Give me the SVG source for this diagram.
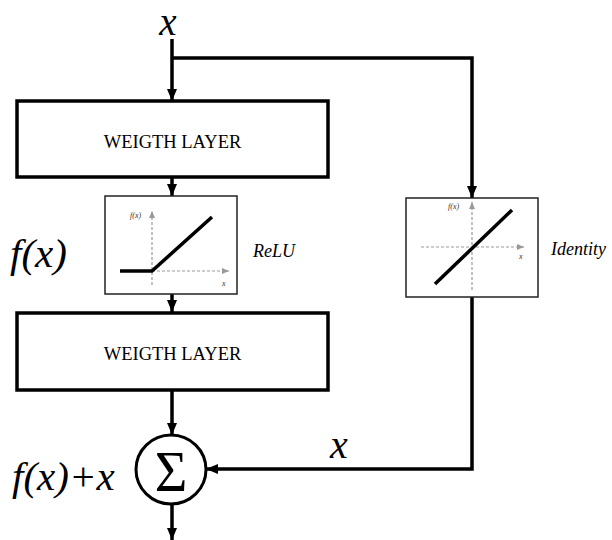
<svg xmlns="http://www.w3.org/2000/svg" width="612" height="540" viewBox="0 0 612 540">
<style>
.conn{fill:none;stroke:#000;stroke-width:3.5}
.layer{fill:#fff;stroke:#000;stroke-width:3.5}
.plot{fill:#fff;stroke:#222;stroke-width:1.5}
.axis{fill:none;stroke:#999;stroke-width:1.2;stroke-dasharray:3,2}
.curve{fill:none;stroke:#000;stroke-width:3.5}
text{font-family:'Liberation Serif','Times New Roman','DejaVu Serif',serif;fill:#000}
.i{font-style:italic}
.small{font-style:italic;font-size:8px;fill:#333}
</style>
<defs>
<marker id="ah" markerUnits="userSpaceOnUse" markerWidth="12" markerHeight="10" refX="12" refY="5" orient="auto">
<path d="M0,0 L12,5 L0,10 Z" fill="#000"/>
</marker>
<marker id="ag" markerUnits="userSpaceOnUse" markerWidth="7" markerHeight="6" refX="7" refY="3" orient="auto">
<path d="M0,0 L7,3 L0,6 Z" fill="#999"/>
</marker>
</defs>

<g id="connectors">
<path class="conn" d="M172,39 V101" marker-end="url(#ah)"/>
<path class="conn" d="M172,58 H472 V198" marker-end="url(#ah)"/>
<path class="conn" d="M172,177 V196" marker-end="url(#ah)"/>
<path class="conn" d="M172,294 V312" marker-end="url(#ah)"/>
<path class="conn" d="M172,390 V435" marker-end="url(#ah)"/>
<path class="conn" d="M472,297 V469 H206" marker-end="url(#ah)"/>
<path class="conn" d="M172,504 V540" marker-end="url(#ah)"/>
</g>

<g id="input-x">
<text class="i" x="168" y="35" font-size="39" text-anchor="middle" font-family="Liberation Serif, serif">x</text>
</g>

<g id="weight-layer-1">
<rect class="layer" x="17" y="101" width="311" height="76"/>
<text x="172.5" y="148" font-size="18.5" text-anchor="middle" font-family="Liberation Serif, serif">WEIGTH LAYER</text>
</g>

<g id="relu">
<rect class="plot" x="105" y="196" width="132" height="98"/>
<path class="axis" d="M152,285 V211" marker-end="url(#ag)"/>
<path class="axis" d="M152,271 H229" marker-end="url(#ag)"/>
<path class="curve" d="M120,271 H152 L212,217"/>
<text class="small" x="130" y="218" font-family="Liberation Serif, serif">f(x)</text>
<text class="small" x="222" y="286" font-family="Liberation Serif, serif">x</text>
<text class="i" x="253" y="257" font-size="18" font-family="Liberation Serif, serif">ReLU</text>
</g>

<g id="fx-label">
<text class="i" x="10" y="267" font-size="41" font-family="Liberation Serif, serif">f(x)</text>
</g>

<g id="identity">
<rect class="plot" x="406" y="198" width="132" height="99"/>
<path class="axis" d="M472,290 V202" marker-end="url(#ag)"/>
<path class="axis" d="M421,247 H524" marker-end="url(#ag)"/>
<path class="curve" d="M435,284 L512,210"/>
<text class="small" x="448" y="209" font-family="Liberation Serif, serif">f(x)</text>
<text class="small" x="519" y="259" font-family="Liberation Serif, serif">x</text>
<text class="i" x="551" y="255" font-size="18" font-family="Liberation Serif, serif">Identity</text>
</g>

<g id="weight-layer-2">
<rect class="layer" x="17" y="313" width="311" height="77"/>
<text x="172.5" y="360" font-size="18.5" text-anchor="middle" font-family="Liberation Serif, serif">WEIGTH LAYER</text>
</g>

<g id="sum">
<ellipse cx="171" cy="469.5" rx="35" ry="34.5" fill="#fff" stroke="#000" stroke-width="3"/>
<text x="171" y="491" font-size="56" text-anchor="middle" font-family="Liberation Serif, serif">Σ</text>
</g>

<g id="sum-label">
<text class="i" x="12" y="490" font-size="41" font-family="Liberation Serif, serif">f(x)+x</text>
</g>

<g id="skip-x">
<text class="i" x="339" y="458" font-size="40" text-anchor="middle" font-family="Liberation Serif, serif">x</text>
</g>
</svg>
